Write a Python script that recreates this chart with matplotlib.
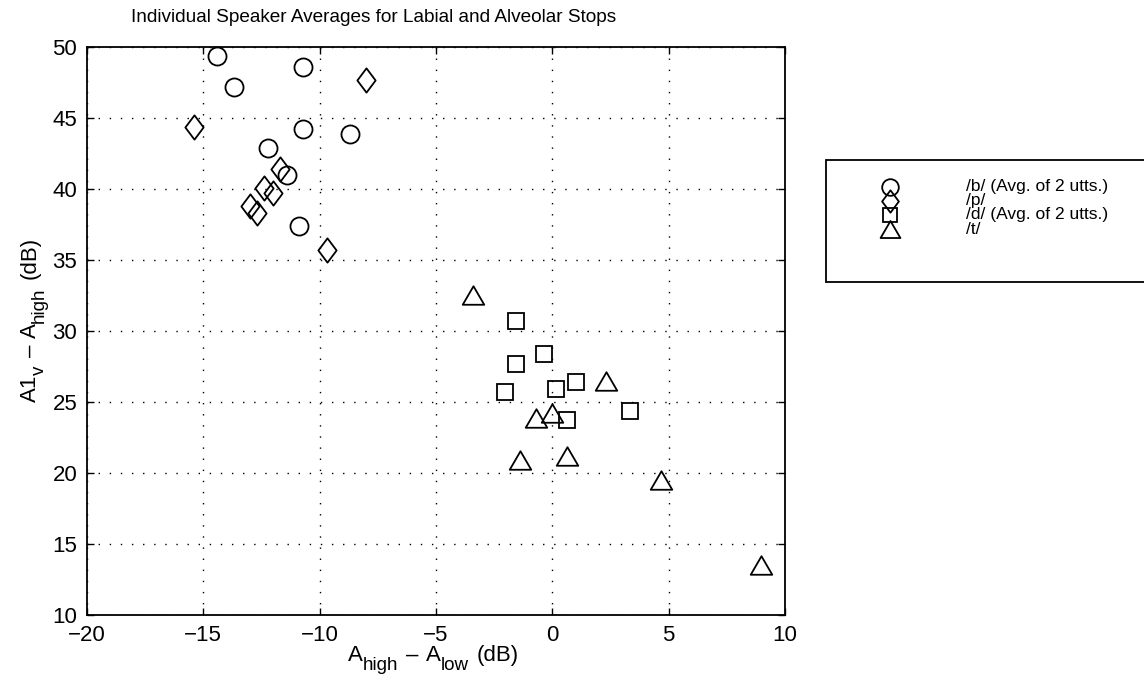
import matplotlib
matplotlib.use('Agg')
import matplotlib.pyplot as plt
from matplotlib.path import Path
from matplotlib.patches import Rectangle
from matplotlib.lines import Line2D
from matplotlib.transforms import IdentityTransform

plt.rcParams['font.family'] = ['Liberation Sans', 'DejaVu Sans']

# moyennes par locuteur (dB)
b_x = [-14.4, -10.7, -13.7, -10.7, -8.7, -12.2, -11.4, -10.9]
b_y = [49.4, 48.6, 47.2, 44.2, 43.9, 42.9, 41.0, 37.4]

p_x = [-15.4, -8.0, -11.7, -12.4, -12.0, -13.0, -12.7, -9.7]
p_y = [44.4, 47.7, 41.4, 40.1, 39.7, 38.8, 38.3, 35.7]

d_x = [-1.55, -0.35, -1.55, 1.0, 0.15, -2.05, 3.35, 0.65]
d_y = [30.7, 28.4, 27.7, 26.4, 25.9, 25.7, 24.4, 23.7]

t_x = [-3.4, 2.3, -0.7, 0.0, -1.4, 0.65, 4.65, 8.95]
t_y = [32.5, 26.5, 23.9, 24.2, 20.9, 21.2, 19.5, 13.5]

labels = ['/b/ (Avg. of 2 utts.)', '/p/', '/d/ (Avg. of 2 utts.)', '/t/']

# marqueurs facon matlab
diamond = Path([(0, 1), (0.75, 0), (0, -1), (-0.75, 0), (0, 1)], closed=True)
triangle = Path([(0, 0.43), (0.5, -0.43), (-0.5, -0.43), (0, 0.43)], closed=True)

fig = plt.figure(figsize=(11.44, 6.85), dpi=100)
ax = fig.add_axes([87 / 1144, 1 - 615 / 685, 698 / 1144, 568 / 685])
px = IdentityTransform()

style = dict(linestyle='none', markerfacecolor='none', markeredgecolor='black',
             markeredgewidth=1.3)
h1, = ax.plot(b_x, b_y, marker='o', markersize=13, clip_on=False, **style)
h2, = ax.plot(p_x, p_y, marker=diamond, markersize=17.5, clip_on=False, **style)
h3, = ax.plot(d_x, d_y, marker='s', markersize=11, clip_on=False, **style)
h4, = ax.plot(t_x, t_y, marker=triangle, markersize=15.5, clip_on=False, **style)

ax.set_xlim(-20, 10)
ax.set_ylim(10, 50)
ax.set_xticks(range(-20, 11, 5))
ax.set_yticks(range(10, 51, 5))
ax.grid(True, color='black', linestyle=(0, (1, 7)), linewidth=1.0)
ax.tick_params(direction='in', length=5, width=1, top=True, right=True,
               labelsize=16, colors='black')
ax.tick_params(axis='x', pad=7)
ax.tick_params(axis='y', pad=7)
for s in ax.spines.values():
    s.set_linewidth(1.3)

ax.set_title('Individual Speaker Averages for Labial and Alveolar Stops',
             fontsize=13.7, x=0.411, pad=18)

# titres des axes avec indices (morceau, taille, descente px, espace avant px)
renderer = fig.canvas.get_renderer()

def ecrire(morceaux, x, y, rot=0):
    pos = 0
    for s, fs, drop, gap in morceaux:
        pos += gap
        if rot == 0:
            xy = (x + pos, y - drop)
        else:
            xy = (x + drop, y + pos)
        t = fig.text(xy[0], xy[1], s, fontsize=fs, rotation=rot,
                     rotation_mode='anchor', ha='left', va='baseline',
                     transform=px)
        bb = t.get_window_extent(renderer)
        pos += bb.width if rot == 0 else bb.height

ecrire([('A', 16, 0, 0), ('high', 13.5, 9, 0), ('\u2013', 16, 0, 8),
        ('A', 16, 0, 7), ('low', 13.5, 9, 0), ('(dB)', 16, 0, 8)],
       348, 685 - 661)
ecrire([('A1', 16, 0, 0), ('v', 13.5, 8, 0), ('\u2013', 16, 0, 8),
        ('A', 16, 0, 7), ('high', 13.5, 8, 0), ('(dB)', 16, 0, 8)],
       36, 685 - 402, rot=90)

# legende : cadre, symboles et textes
fig.patches.append(Rectangle((826, 685 - 282), 400, 122, transform=px,
                             facecolor='white', edgecolor='black', linewidth=1.3))
leg_y = [187, 201, 215, 229]
for h, lab, yy in zip([h1, h2, h3, h4], labels, leg_y):
    fig.add_artist(Line2D([890], [685 - yy], transform=px, marker=h.get_marker(),
                          markersize=h.get_markersize() * 0.92, **style))
    fig.text(966, 685 - yy, lab, fontsize=12.5, va='center', transform=px)

fig.savefig('out.png', dpi=100)
